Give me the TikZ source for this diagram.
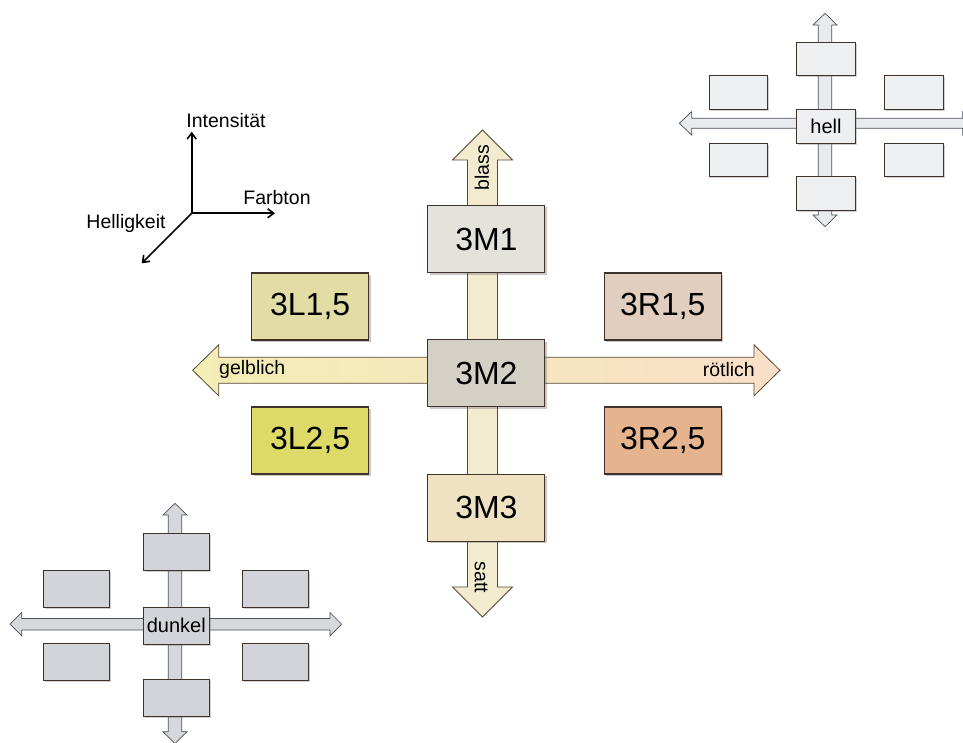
\documentclass[tikz,border=0pt]{standalone}
\usepackage{fontspec}
\setmainfont{Liberation Sans}
\usetikzlibrary{shadows,arrows.meta}
\definecolor{bxline}{HTML}{3E322A}
\definecolor{arline}{HTML}{5A4838}
\definecolor{cMone}{HTML}{E5E2DC}
\definecolor{cMtwo}{HTML}{D5D0C5}
\definecolor{cMthree}{HTML}{EEE2C2}
\definecolor{cLone}{HTML}{E1DDA5}
\definecolor{cLtwo}{HTML}{DDDA68}
\definecolor{cRone}{HTML}{E2CEBF}
\definecolor{cRtwo}{HTML}{E5B48E}
\definecolor{vfill}{HTML}{F2EBD0}
\definecolor{hyel}{HTML}{F3EEB4}
\definecolor{hpea}{HTML}{F9DFC8}
\definecolor{miniline}{HTML}{4A4F58}
\definecolor{hellbox}{HTML}{EEEFF1}
\definecolor{hellar}{HTML}{E9EAED}
\definecolor{dunkbox}{HTML}{D3D4D9}
\definecolor{dunkar}{HTML}{D7D8DC}
\newcommand\hdar[7]{%
\path[#1] (#2,#4) -- ++(#7,-#6) -- ++(0,#6-#5) -- (#3-#7,#4-#5) -- ++(0,#5-#6) -- (#3,#4) -- ++(-#7,#6) -- ++(0,#5-#6) -- (#2+#7,#4+#5) -- ++(0,#6-#5) -- cycle;}
\newcommand\vdar[7]{%
\path[#1] (#4,#2) -- ++(#6,#7) -- ++(#5-#6,0) -- (#4+#5,#3-#7) -- ++(#6-#5,0) -- (#4,#3) -- ++(-#6,-#7) -- ++(#6-#5,0) -- (#4-#5,#2+#7) -- ++(#5-#6,0) -- cycle;}
\begin{document}
\begin{tikzpicture}[x=1pt,y=-1pt,
  bigbox/.style={draw=bxline,line width=1.1pt,minimum width=117pt,minimum height=67pt,inner sep=0pt,
     font=\fontsize{32}{36}\selectfont,
     drop shadow={shadow xshift=2pt,shadow yshift=-2pt,opacity=0.35,fill=black!60}},
  hellbx/.style={draw=bxline,line width=0.9pt,fill=hellbox,minimum width=58.5pt,minimum height=33.5pt,inner sep=0pt,
     font=\fontsize{20}{24}\selectfont,
     drop shadow={shadow xshift=1.5pt,shadow yshift=-1.5pt,opacity=0.3,fill=black!60}},
  dunkbx/.style={draw=bxline,line width=0.9pt,fill=dunkbox,minimum width=66pt,minimum height=37pt,inner sep=0pt,
     font=\fontsize{20}{24}\selectfont,
     drop shadow={shadow xshift=1.5pt,shadow yshift=-1.5pt,opacity=0.3,fill=black!60}},
  arlab/.style={font=\fontsize{19.5}{22}\selectfont,inner sep=0pt},
  axlab/.style={font=\fontsize{19.5}{22}\selectfont,inner sep=0pt},
  axis/.style={line width=1.6pt,-{Straight Barb[length=6pt,width=9pt]}}
]
\useasboundingbox (0,0) rectangle (963,743);
\fill[white] (0,0) rectangle (963,743);

% ---------- axes ----------
\coordinate (o) at (191.7,213.3);
\coordinate (up) at (191.7,131.7);
\coordinate (rt) at (275,213.3);
\coordinate (dg) at (141.7,263.3);
\draw[axis] (o) -- (up);
\draw[axis] (o) -- (rt);
\draw[axis] (o) -- (dg);
\node[axlab] (lint) at (226,121) {Intensität};
\node[axlab] (lfar) at (277,198) {Farbton};
\node[axlab] (lhel) at (126,223) {Helligkeit};

% ---------- main arrows ----------
\vdar{draw=arline,line width=0.8pt,fill=vfill}{130}{617}{482.5}{15}{30}{30}
\hdar{draw=arline,line width=0.8pt,left color=hyel,right color=hpea}{192.7}{780}{370.3}{13}{25.5}{26}
\node[arlab,anchor=west] (gel) at (219,369.5) {gelblich};
\node[arlab,anchor=east] (rot) at (755,369.5) {rötlich};
\node[arlab,rotate=90] (bla) at (482,167.5) {blass};
\node[arlab,rotate=-90] (sat) at (481,577.5) {satt};

% ---------- main boxes ----------
\node[bigbox,fill=cMone] (m1) at (486.4,239) {3M1};
\node[bigbox,fill=cMtwo] (m2) at (486.4,373.3) {3M2};
\node[bigbox,fill=cMthree] (m3) at (486.4,507.9) {3M3};
\node[bigbox,fill=cLone] (l1) at (310.2,306.5) {3L1,5};
\node[bigbox,fill=cLtwo] (l2) at (310.2,440.5) {3L2,5};
\node[bigbox,fill=cRone] (r1) at (662.8,306.5) {3R1,5};
\node[bigbox,fill=cRtwo] (r2) at (662.8,440.5) {3R2,5};

% ---------- hell (top right) ----------
\begin{scope}
\clip (0,0) rectangle (963,743);
\vdar{draw=miniline,line width=0.7pt,fill=hellar}{13.3}{226.7}{825}{6.7}{12}{11.7}
\hdar{draw=miniline,line width=0.7pt,fill=hellar}{679.3}{975}{123.3}{5}{11.7}{12.4}
\end{scope}
\node[hellbx] (hc) at (826,126.7) {hell};
\node[hellbx] (ht) at (826,59.2) {};
\node[hellbx] (hb) at (826,193.7) {};
\node[hellbx] (hl1) at (738.2,92.7) {};
\node[hellbx] (hl2) at (738.2,160) {};
\node[hellbx] (hr1) at (913.8,92.7) {};
\node[hellbx] (hr2) at (913.8,160) {};

% ---------- dunkel (bottom left) ----------
\begin{scope}
\clip (0,0) rectangle (963,743);
\vdar{draw=miniline,line width=0.7pt,fill=dunkar}{503.3}{743.5}{175}{6.7}{12}{11.7}
\hdar{draw=miniline,line width=0.7pt,fill=dunkar}{10}{341.7}{624.2}{5.8}{11.7}{11.7}
\end{scope}
\node[dunkbx] (dc) at (176.3,625.7) {dunkel};
\node[dunkbx] (dt) at (176.3,551.7) {};
\node[dunkbx] (db) at (176.3,698.3) {};
\node[dunkbx] (dl1) at (76.3,588.7) {};
\node[dunkbx] (dl2) at (76.3,662.3) {};
\node[dunkbx] (dr1) at (275.7,588.7) {};
\node[dunkbx] (dr2) at (275.7,662.3) {};
\end{tikzpicture}
\end{document}
